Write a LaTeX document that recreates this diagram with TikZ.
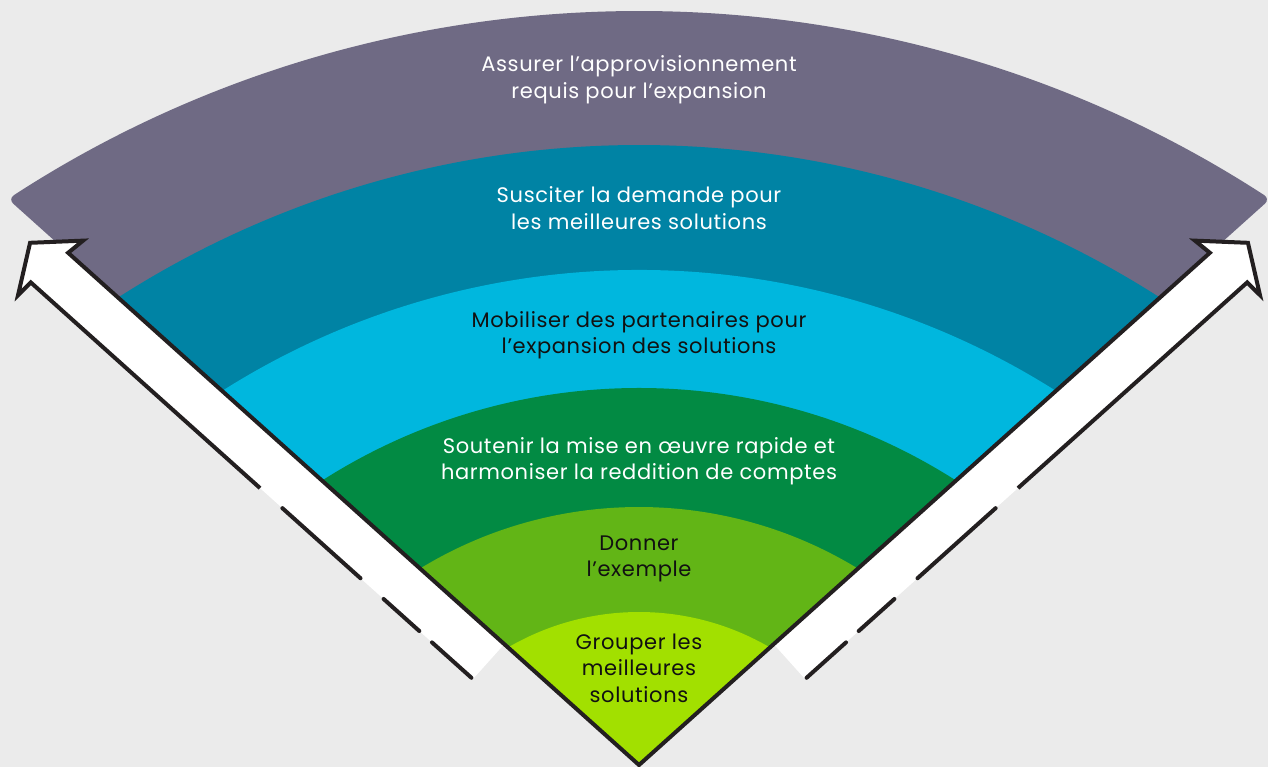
\documentclass[tikz,border=0pt]{standalone}
\usepackage{fontspec}
\setmainfont{Poppins}[LetterSpace=3]
\definecolor{bg}{HTML}{EBEBEB}
\definecolor{cpurple}{HTML}{6F6A84}
\definecolor{cteal}{HTML}{0083A4}
\definecolor{ccyan}{HTML}{00B7DE}
\definecolor{cgreen}{HTML}{028A43}
\definecolor{clgreen}{HTML}{62B516}
\definecolor{clime}{HTML}{A2E000}
\definecolor{cline}{HTML}{231F20}
\definecolor{cdark}{HTML}{111111}
\begin{document}
\begin{tikzpicture}[x=1pt,y=1pt,
  lbl/.style={align=center, font=\fontsize{21}{26.5}\selectfont, inner sep=0pt},
  outline/.style={line width=4pt, draw=cline, line join=miter},
  dashseg/.style={line width=4pt, draw=cline, line cap=round}]
\useasboundingbox (0,0) rectangle (1268,767);
\fill[bg] (0,0) rectangle (1268,767);
% bands
\fill[cpurple, rounded corners=7pt] (639,2) -- (8,568) arc[start angle=123.02, end angle=56.98, radius=1158.1] -- cycle;
\fill[cteal] (639,2) -- (118,469.4) arc[start angle=122.65, end angle=57.35, radius=965.7] -- cycle;
\fill[ccyan] (639,2) -- (222,376) arc[start angle=122.37, end angle=57.63, radius=779] -- cycle;
\fill[cgreen] (639,2) -- (322,286.4) arc[start angle=122.57, end angle=57.43, radius=589] -- cycle;
\fill[clgreen] (639,2) -- (420,198.4) arc[start angle=121.42, end angle=58.58, radius=420] -- cycle;
\fill[clime] (639,2) -- (508,119.5) arc[start angle=120.32, end angle=59.68, radius=259.5] -- cycle;
\coordinate (apex) at (639,2);
% left arrow
\begin{scope}[shift={(639,2)}, rotate=138.1]
  \fill[white] (181,0) -- (767,0) -- (764,-19) -- (802,18) -- (776,65) -- (775,47) -- (181,47) -- cycle;
  \coordinate (Ln1) at (767,0);
  \coordinate (Lb1) at (764,-19);
  \coordinate (Lt) at (802,18);
  \coordinate (Lb2) at (776,65);
  \coordinate (Ln2) at (775,47);
  \coordinate (Le) at (467,47);
  \draw[dashseg] (437,47) -- (332,47);
  \draw[dashseg] (301,47) -- (253,47);
  \draw[dashseg] (236,47) -- (183,47);
\end{scope}
% right arrow
\begin{scope}[shift={(639,2)}, xscale=-1, rotate=138.1]
  \fill[white] (181,0) -- (767,0) -- (764,-19) -- (802,18) -- (776,65) -- (775,47) -- (181,47) -- cycle;
  \coordinate (Rn1) at (767,0);
  \coordinate (Rb1) at (764,-19);
  \coordinate (Rt) at (802,18);
  \coordinate (Rb2) at (776,65);
  \coordinate (Rn2) at (775,47);
  \coordinate (Re) at (467,47);
  \draw[dashseg] (437,47) -- (332,47);
  \draw[dashseg] (301,47) -- (253,47);
  \draw[dashseg] (236,47) -- (183,47);
\end{scope}
\draw[outline] (Le) -- (Ln2) -- (Lb2) -- (Lt) -- (Lb1) -- (Ln1) -- (apex) -- (Rn1) -- (Rb1) -- (Rt) -- (Rb2) -- (Rn2) -- (Re);
% labels
\node[lbl, text=white] (t1) at (639,687) {Assurer l’approvisionnement\\requis pour l’expansion};
\node[lbl, text=white] (t2) at (639,559) {Susciter la demande pour\\les meilleures solutions};
\node[lbl, text=cdark] (t3) at (639,432) {Mobiliser des partenaires pour\\l’expansion des solutions};
\node[lbl, text=white] (t4) at (639,306) {Soutenir la mise en œuvre rapide et\\harmoniser la reddition de comptes};
\node[lbl, text=cdark] (t5) at (639,208) {Donner\\l’exemple};
\node[lbl, text=cdark] (t6) at (639,99) {Grouper les\\meilleures\\solutions};
\end{tikzpicture}
\end{document}
